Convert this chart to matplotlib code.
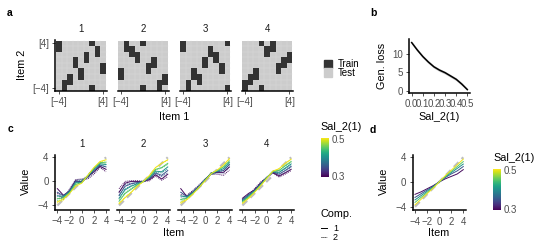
import numpy as np
import matplotlib
matplotlib.use("Agg")
import matplotlib.pyplot as plt
from matplotlib.colors import Normalize, ListedColormap
from matplotlib.cm import ScalarMappable
from matplotlib.patches import Rectangle
from matplotlib.lines import Line2D

plt.rcParams['font.family'] = ['Liberation Sans', 'DejaVu Sans']

W, H = 549, 247

# ---- data ----
items = [-4, -3, -2, -1, 0, 1, 2, 3, 4]
facets = ["1", "2", "3", "4"]

# panel a: (item1, item2) cells used for training, per facet
train_1 = [(-4, 4), (-4, 3), (-3, -3), (-3, -4), (-2, -2), (-2, -3), (-1, 1), (-1, 0), (0, -1),
           (0, -2), (1, 2), (1, 1), (2, 4), (2, -4), (3, 3), (3, 2), (4, 0), (4, -1)]
train_2 = [(-4, -1), (-4, -2), (-3, 4), (-3, 3), (-2, 3), (-2, 2), (-1, 2), (-1, 1), (0, 4),
           (0, -4), (1, 0), (1, -1), (2, 1), (2, 0), (3, -3), (3, -4), (4, -2), (4, -3)]
train_3 = [(-4, 4), (-4, 3), (-3, -3), (-3, -4), (-2, -1), (-2, -2), (-1, -2), (-1, -3), (0, 1),
           (0, 0), (1, 3), (1, 2), (2, 2), (2, 1), (3, 0), (3, -1), (4, 4), (4, -4)]
train_4 = [(-4, -3), (-4, -4), (-3, -2), (-3, -3), (-2, -1), (-2, -2), (-1, 4), (-1, -4), (0, 3),
           (0, 2), (1, 4), (1, 3), (2, 0), (2, -1), (3, 1), (3, 0), (4, 2), (4, 1)]
train_cells = [train_1, train_2, train_3, train_4]

# panel b
sal_grid = [0.0, 0.05, 0.1, 0.15, 0.2, 0.25, 0.3, 0.35, 0.4, 0.45, 0.5]
gen_loss = [13.1, 11.1, 9.3, 7.8, 6.5, 5.6, 4.9, 4.0, 3.1, 1.8, 0.3]
gen_loss_se = [0.4, 0.4, 0.4, 0.4, 0.4, 0.4, 0.4, 0.4, 0.4, 0.4, 0.3]

# panel c / d
sal_levels = [0.30, 0.35, 0.40, 0.45, 0.50]
target = [-4, -3, -2, -1, 0, 1, 2, 3, 4]

c1_comp1 = [[-1.2, -2.3, -1.6, 0.1, -0.1, 0.8, 1.6, 2.5, 2.0],
            [-1.8, -2.4, -1.6, 0.0, -0.1, 0.9, 1.8, 2.7, 2.4],
            [-2.4, -2.5, -1.7, -0.2, -0.2, 0.9, 2.0, 2.9, 2.8],
            [-2.9, -2.7, -1.9, -0.5, -0.2, 1.0, 2.2, 3.1, 3.2],
            [-3.4, -2.9, -2.0, -0.8, -0.3, 1.0, 2.3, 3.3, 3.6]]
c1_comp2 = [[-2.0, -2.8, -1.3, 0.3, 0.4, 0.4, 1.2, 2.3, 1.6],
            [-2.4, -2.8, -1.4, 0.2, 0.3, 0.6, 1.5, 2.5, 2.0],
            [-2.8, -2.9, -1.6, 0.0, 0.2, 0.7, 1.8, 2.7, 2.5],
            [-3.2, -3.0, -1.8, -0.3, 0.0, 0.9, 2.0, 3.0, 3.0],
            [-3.6, -3.1, -1.9, -0.6, -0.1, 1.0, 2.2, 3.2, 3.5]]
c2_comp1 = [[-1.8, -0.3, 0.0, 0.0, 0.0, 0.3, 1.1, 0.4, 1.2],
            [-2.3, -0.8, -0.4, -0.2, 0.0, 0.5, 1.4, 1.0, 1.8],
            [-2.8, -1.4, -0.8, -0.4, 0.0, 0.7, 1.7, 1.6, 2.4],
            [-3.3, -2.0, -1.3, -0.6, 0.0, 0.8, 2.0, 2.3, 3.0],
            [-3.7, -2.7, -1.8, -0.8, 0.0, 1.0, 2.3, 3.0, 3.6]]
c2_comp2 = [[-1.2, 0.0, 0.1, 0.1, 0.0, 0.1, 0.9, 0.2, 0.8],
            [-1.8, -0.5, -0.3, -0.1, 0.0, 0.3, 1.2, 0.8, 1.4],
            [-2.4, -1.2, -0.7, -0.3, 0.0, 0.5, 1.5, 1.4, 2.1],
            [-3.0, -1.9, -1.2, -0.5, 0.0, 0.7, 1.9, 2.2, 2.8],
            [-3.6, -2.6, -1.8, -0.8, 0.0, 1.0, 2.3, 3.0, 3.5]]
c3_comp1 = [[-1.2, -2.5, -1.8, -0.9, 0.2, 1.4, 1.5, 1.5, 2.4],
            [-1.8, -2.5, -1.8, -0.9, 0.2, 1.4, 1.6, 1.8, 2.8],
            [-2.4, -2.6, -1.9, -0.9, 0.2, 1.4, 1.7, 2.1, 3.1],
            [-3.0, -2.8, -2.0, -1.0, 0.2, 1.3, 1.8, 2.4, 3.4],
            [-3.5, -3.0, -2.1, -1.0, 0.1, 1.3, 1.9, 2.7, 3.8]]
c3_comp2 = [[-2.2, -2.3, -1.5, -0.6, 0.4, 1.2, 1.2, 1.0, 1.9],
            [-2.6, -2.5, -1.6, -0.7, 0.4, 1.2, 1.4, 1.4, 2.4],
            [-3.0, -2.7, -1.8, -0.8, 0.3, 1.2, 1.6, 1.8, 2.8],
            [-3.3, -2.9, -1.9, -0.9, 0.2, 1.3, 1.7, 2.2, 3.3],
            [-3.7, -3.1, -2.1, -1.0, 0.1, 1.3, 1.9, 2.6, 3.7]]
c4_comp1 = [[-2.8, -2.0, -1.4, -0.3, 0.6, 1.5, 0.9, 1.4, 2.0],
            [-3.0, -2.2, -1.5, -0.4, 0.6, 1.6, 1.2, 1.8, 2.5],
            [-3.2, -2.4, -1.6, -0.5, 0.6, 1.6, 1.5, 2.2, 2.9],
            [-3.4, -2.6, -1.7, -0.6, 0.6, 1.7, 1.8, 2.6, 3.3],
            [-3.6, -2.8, -1.8, -0.7, 0.5, 1.7, 2.1, 3.0, 3.7]]
c4_comp2 = [[-3.0, -2.3, -1.2, -0.1, 0.7, 1.4, 0.7, 1.2, 1.8],
            [-3.2, -2.4, -1.4, -0.3, 0.7, 1.5, 1.0, 1.6, 2.3],
            [-3.3, -2.6, -1.5, -0.4, 0.6, 1.6, 1.4, 2.1, 2.8],
            [-3.5, -2.7, -1.7, -0.6, 0.6, 1.7, 1.8, 2.5, 3.2],
            [-3.7, -2.9, -1.8, -0.7, 0.5, 1.7, 2.1, 2.9, 3.6]]
comp1_values = [c1_comp1, c2_comp1, c3_comp1, c4_comp1]
comp2_values = [c1_comp2, c2_comp2, c3_comp2, c4_comp2]

d_values = [[-2.0, -1.6, -1.1, -0.6, 0.0, 0.5, 0.9, 1.3, 2.0],
            [-2.5, -1.9, -1.3, -0.7, 0.0, 0.7, 1.3, 1.8, 2.5],
            [-2.9, -2.2, -1.5, -0.8, 0.0, 0.8, 1.5, 2.2, 2.9],
            [-3.3, -2.5, -1.7, -0.9, 0.0, 0.9, 1.7, 2.5, 3.3],
            [-3.7, -2.8, -1.9, -1.0, 0.0, 1.0, 1.9, 2.8, 3.7]]

# ---- style ----
TICK_FS = 7
TITLE_FS = 7.8
TICK_COL = '#4D4D4D'
TRAIN_COL = '#333333'
TEST_COL = '#CCCCCC'
cmap = plt.get_cmap('viridis')
norm = Normalize(vmin=0.295, vmax=0.505)

fig = plt.figure(figsize=(W / 100, H / 100), dpi=100)


def px_axes(left, top, width, height):
    return fig.add_axes([left / W, 1 - (top + height) / H, width / W, height / H])


def ftext(x, y, s, **kw):
    kw.setdefault('ha', 'center')
    kw.setdefault('va', 'center')
    fig.text(x / W, 1 - y / H, s, **kw)


def style(ax, left=True):
    for side in ['top', 'right']:
        ax.spines[side].set_visible(False)
    ax.spines['left'].set_visible(left)
    for side in ['left', 'bottom']:
        ax.spines[side].set_linewidth(1.1)
        ax.spines[side].set_color('black')
    ax.tick_params(length=2.5, width=0.6, color='#333333', labelsize=TICK_FS,
                   labelcolor=TICK_COL, pad=2)
    if not left:
        ax.tick_params(axis='y', left=False, labelleft=False)


def minus(v):
    return str(v).replace('-', '\u2212')


# ---- panel a ----
train_cmap = ListedColormap([TRAIN_COL])
edges = np.arange(-4.5, 5.0, 1.0)
for i, name in enumerate(facets):
    ax = px_axes(55.4 + 62.1 * i, 40.1, 51.1, 51.1)
    z = np.zeros((len(items), len(items)))
    for (x, y) in train_cells[i]:
        z[items.index(y), items.index(x)] = 1
    # test cells as background, faint cell borders, train cells on top
    ax.add_patch(Rectangle((-4.5, -4.5), 9, 9, color=TEST_COL, lw=0, zorder=0))
    for e in edges[1:-1]:
        ax.plot([e, e], [-4.5, 4.5], color='#D9D9D9', lw=0.35, zorder=1)
        ax.plot([-4.5, 4.5], [e, e], color='#D9D9D9', lw=0.35, zorder=1)
    ax.pcolormesh(edges, edges, np.ma.masked_equal(z, 0), cmap=train_cmap,
                  edgecolors='none', antialiased=False, zorder=2)
    ax.set_xlim(-4.6, 4.6)
    ax.set_ylim(-4.6, 4.6)
    style(ax, left=(i == 0))
    ax.set_xticks([-4, 4])
    ax.set_xticklabels(['[\u22124]', '[4]'])
    ax.set_yticks([-4, 4])
    ax.set_yticklabels(['[\u22124]', '[4]'])
    ftext(55.4 + 62.1 * i + 25.5, 28.5, name, fontsize=TICK_FS, color='#1A1A1A')

ftext(174, 117, 'Item 1', fontsize=TITLE_FS)
ftext(22, 65, 'Item 2', fontsize=TITLE_FS, rotation=90)

# train/test legend
fig.add_artist(Rectangle((324 / W, 1 - 68.3 / H), 7.7 / W, 8.3 / H,
                         transform=fig.transFigure, color=TRAIN_COL))
fig.add_artist(Rectangle((324 / W, 1 - 77 / H), 7.7 / W, 8.7 / H,
                         transform=fig.transFigure, color=TEST_COL))
ftext(338, 64, 'Train', fontsize=TICK_FS, ha='left')
ftext(338, 73, 'Test', fontsize=TICK_FS, ha='left')

# ---- panel b ----
ax = px_axes(408.9, 39.4, 61.2, 53.7)
lo = [g - s for g, s in zip(gen_loss, gen_loss_se)]
hi = [g + s for g, s in zip(gen_loss, gen_loss_se)]
ax.fill_between(sal_grid, lo, hi, color='#999999', alpha=0.5, lw=0)
ax.plot(sal_grid, gen_loss, color='black', lw=1.1)
ax.set_xlim(-0.025, 0.525)
ax.set_ylim(-0.665, 13.97)
ax.set_xticks([0.0, 0.1, 0.2, 0.3, 0.4, 0.5])
ax.set_xticklabels(['0.0', '0.1', '0.2', '0.3', '0.4', '0.5'])
ax.set_yticks([0, 5, 10])
style(ax)
ftext(382, 66, 'Gen. loss', fontsize=TITLE_FS, rotation=90)
ftext(439, 117, 'Sal_2(1)', fontsize=TITLE_FS)


def draw_lines(ax, series, ls):
    for lvl, vals in zip(sal_levels, series):
        ax.plot(items, vals, color=cmap(norm(lvl)), lw=0.7, ls=ls)


# ---- panel c ----
for i, name in enumerate(facets):
    ax = px_axes(54.9 + 61.7 * i, 154.9, 53.6, 55.1)
    ax.plot(items, target, color='#BEBEBE', lw=1.6, ls=(0, (3, 2)), zorder=0)
    draw_lines(ax, comp2_values[i], (0, (1, 1)))
    draw_lines(ax, comp1_values[i], '-')
    ax.set_xlim(-4.4, 4.4)
    ax.set_ylim(-4.75, 4.4)
    style(ax, left=(i == 0))
    ax.set_xticks([-4, -2, 0, 2, 4])
    ax.set_xticklabels([minus(v) for v in [-4, -2, 0, 2, 4]])
    ax.set_yticks([-4, 0, 4])
    ax.set_yticklabels([minus(v) for v in [-4, 0, 4]])
    ftext(54.9 + 61.7 * i + 26.8, 144, name, fontsize=TICK_FS, color='#1A1A1A')

ftext(174, 233, 'Item', fontsize=TITLE_FS)
ftext(26, 181, 'Value', fontsize=TITLE_FS, rotation=90)


def colorbar(left, top, width, height):
    cax = px_axes(left, top, width, height)
    cb = fig.colorbar(ScalarMappable(norm=norm, cmap=cmap), cax=cax)
    cb.outline.set_visible(False)
    cb.set_ticks([0.3, 0.5])
    cb.set_ticklabels(['0.3', '0.5'])
    cax.tick_params(length=0, labelsize=TICK_FS, labelcolor=TICK_COL, pad=2)


colorbar(320.7, 137.7, 8.6, 39)
ftext(320, 127, 'Sal_2(1)', fontsize=TITLE_FS, ha='left')

ftext(320, 214, 'Comp.', fontsize=TITLE_FS, ha='left')
fig.add_artist(Line2D([321 / W, 327 / W], [1 - 228 / H] * 2, transform=fig.transFigure,
                      color='black', lw=0.7))
fig.add_artist(Line2D([321 / W, 327 / W], [1 - 237 / H] * 2, transform=fig.transFigure,
                      color='black', lw=0.7, ls=(0, (1, 1))))
ftext(333, 228, '1', fontsize=TICK_FS - 0.5, ha='left')
ftext(333, 237, '2', fontsize=TICK_FS - 0.5, ha='left')

# ---- panel d ----
ax = px_axes(412.6, 154.8, 53.1, 55.6)
ax.plot(items, target, color='#BEBEBE', lw=1.6, ls=(0, (3, 2)), zorder=0)
draw_lines(ax, d_values, '-')
ax.set_xlim(-4.4, 4.4)
ax.set_ylim(-4.6, 4.4)
style(ax)
ax.set_xticks([-4, -2, 0, 2, 4])
ax.set_xticklabels([minus(v) for v in [-4, -2, 0, 2, 4]])
ax.set_yticks([-4, 0, 4])
ax.set_yticklabels([minus(v) for v in [-4, 0, 4]])
ftext(439, 233, 'Item', fontsize=TITLE_FS)
ftext(384, 181, 'Value', fontsize=TITLE_FS, rotation=90)

colorbar(492.7, 169, 8.3, 41)
ftext(493, 158, 'Sal_2(1)', fontsize=TITLE_FS, ha='left')

# panel letters
for x, y, s in [(10, 13, 'a'), (373, 13, 'b'), (10, 129, 'c'), (373, 130, 'd')]:
    ftext(x, y, s, fontsize=7.5, fontweight='bold')

fig.savefig('out.png', dpi=100)
